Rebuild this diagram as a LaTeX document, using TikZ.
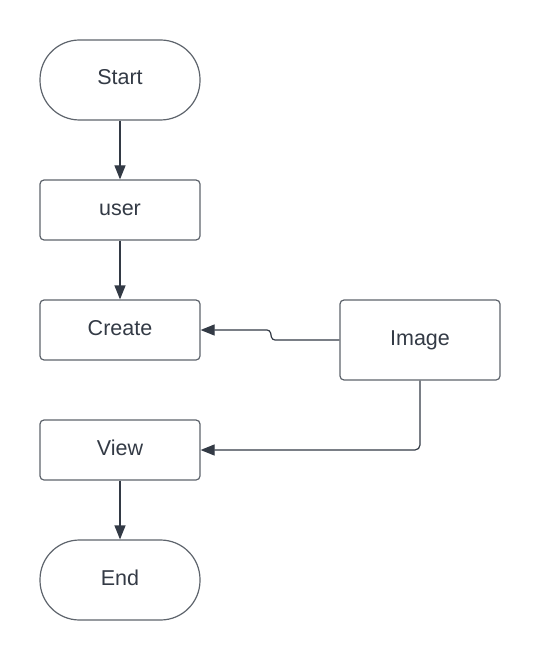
\documentclass[tikz,border=0pt]{standalone}
\usepackage{fontspec}
\setmainfont{Liberation Sans}
\usetikzlibrary{arrows.meta}
\definecolor{edge}{HTML}{5E646C}
\definecolor{ink}{HTML}{333A45}
\tikzset{
  box/.style={draw=edge, line width=1.2pt, rounded corners=4pt, minimum width=160pt, minimum height=60pt, inner sep=0pt, text height=15pt, text depth=5pt, text=ink, font=\fontsize{21.5}{25}\selectfont},
  term/.style={box, rounded corners=39.5pt, minimum height=80pt},
  conn/.style={draw=ink, line width=1.2pt, -{Triangle[length=14pt,width=11pt]}}
}
\begin{document}
\begin{tikzpicture}[x=1pt,y=-1pt]
\useasboundingbox (0,0) rectangle (540,660);
\node[term] (start) at (120,80) {Start};
\node[box] (user) at (120,210) {user};
\node[box] (create) at (120,330) {Create};
\node[box] (view) at (120,450) {View};
\node[term] (end) at (120,580) {End};
\node[box, minimum height=80pt] (image) at (420,340) {Image};
\coordinate (j1) at (272,340);
\coordinate (j2) at (270,330);
\draw[conn] (start) -- (user);
\draw[conn] (user) -- (create);
\draw[conn] (view) -- (end);
\draw[conn, rounded corners=3pt] (image.west) -- (j1) -- (j2) -- (create.east);
\draw[conn, rounded corners=5pt] (image.south) |- (view.east);
\end{tikzpicture}
\end{document}
